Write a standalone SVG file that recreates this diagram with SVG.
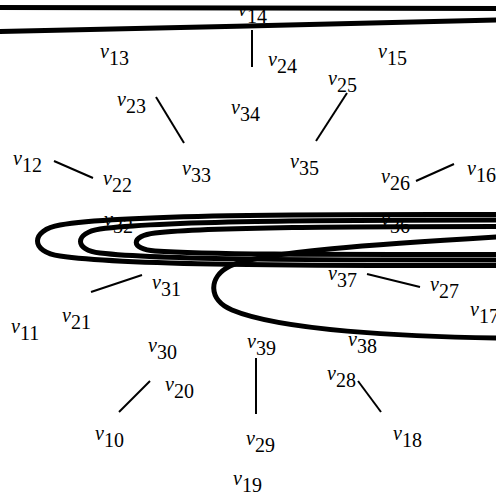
<svg xmlns="http://www.w3.org/2000/svg" width="496" height="495" viewBox="0 0 496 495">
<style>
text{font-family:"Liberation Serif","Times New Roman",serif;font-size:20px;fill:#000}
.v{font-style:italic}
.e{stroke:#000;stroke-width:2;fill:none}
.loop{stroke:#000;stroke-width:5;fill:none}
</style>
<rect width="496" height="495" fill="#fff"/>
<g id="connectors">
<path class="loop" d="M -10,7.5 L 506,8.5"/>
<path class="loop" d="M -10,31.7 C 150,29 350,23 506,19.7"/>
<path class="loop" d="M 506,214.5 C 300,214 120,215 60,225 C 30,230 30,252 60,256 C 120,265 300,266 506,265.5"/>
<path class="loop" d="M 506,220 C 320,220 160,221 100,229 C 74,233 74,250 100,253 C 160,260 320,260 506,260"/>
<path class="loop" d="M 506,226.5 C 350,226.5 210,227 155,233 C 130,236 130,249 155,251 C 210,255 350,254.5 506,254.5"/>
<path class="loop" d="M 506,236.5 C 380,244 260,252 230,266 C 208,277 208,300 232,310 C 280,330 400,337 506,338"/>
<line class="e" x1="252" y1="30" x2="252" y2="67"/>
<line class="e" x1="156" y1="97" x2="184" y2="143"/>
<line class="e" x1="347" y1="93" x2="316" y2="141"/>
<line class="e" x1="54" y1="161" x2="93" y2="178"/>
<line class="e" x1="416" y1="181" x2="454" y2="164"/>
<line class="e" x1="91" y1="292" x2="142" y2="275"/>
<line class="e" x1="367" y1="274" x2="420" y2="287"/>
<line class="e" x1="150" y1="381" x2="119" y2="412"/>
<line class="e" x1="256" y1="358" x2="256" y2="414"/>
<line class="e" x1="358" y1="381" x2="381" y2="412"/>
</g>
<g id="v10"><text x="95" y="440"><tspan class="v">v</tspan><tspan dy="7">10</tspan></text></g>
<g id="v11"><text x="11" y="333"><tspan class="v">v</tspan><tspan dy="7">11</tspan></text></g>
<g id="v12"><text x="13" y="165"><tspan class="v">v</tspan><tspan dy="7">12</tspan></text></g>
<g id="v13"><text x="100" y="58"><tspan class="v">v</tspan><tspan dy="7">13</tspan></text></g>
<g id="v14"><text x="238" y="16"><tspan class="v">v</tspan><tspan dy="7">14</tspan></text></g>
<g id="v15"><text x="378" y="58"><tspan class="v">v</tspan><tspan dy="7">15</tspan></text></g>
<g id="v16"><text x="467" y="175"><tspan class="v">v</tspan><tspan dy="7">16</tspan></text></g>
<g id="v17"><text x="470" y="316"><tspan class="v">v</tspan><tspan dy="7">17</tspan></text></g>
<g id="v18"><text x="393" y="440"><tspan class="v">v</tspan><tspan dy="7">18</tspan></text></g>
<g id="v19"><text x="233" y="485"><tspan class="v">v</tspan><tspan dy="7">19</tspan></text></g>
<g id="v20"><text x="165" y="391"><tspan class="v">v</tspan><tspan dy="7">20</tspan></text></g>
<g id="v21"><text x="62" y="322"><tspan class="v">v</tspan><tspan dy="7">21</tspan></text></g>
<g id="v22"><text x="103" y="185"><tspan class="v">v</tspan><tspan dy="7">22</tspan></text></g>
<g id="v23"><text x="117" y="106"><tspan class="v">v</tspan><tspan dy="7">23</tspan></text></g>
<g id="v24"><text x="268" y="66"><tspan class="v">v</tspan><tspan dy="7">24</tspan></text></g>
<g id="v25"><text x="328" y="85"><tspan class="v">v</tspan><tspan dy="7">25</tspan></text></g>
<g id="v26"><text x="381" y="183"><tspan class="v">v</tspan><tspan dy="7">26</tspan></text></g>
<g id="v27"><text x="430" y="291"><tspan class="v">v</tspan><tspan dy="7">27</tspan></text></g>
<g id="v28"><text x="327" y="380"><tspan class="v">v</tspan><tspan dy="7">28</tspan></text></g>
<g id="v29"><text x="246" y="445"><tspan class="v">v</tspan><tspan dy="7">29</tspan></text></g>
<g id="v30"><text x="148" y="352"><tspan class="v">v</tspan><tspan dy="7">30</tspan></text></g>
<g id="v31"><text x="152" y="289"><tspan class="v">v</tspan><tspan dy="7">31</tspan></text></g>
<g id="v32"><text x="104" y="226"><tspan class="v">v</tspan><tspan dy="7">32</tspan></text></g>
<g id="v33"><text x="182" y="175"><tspan class="v">v</tspan><tspan dy="7">33</tspan></text></g>
<g id="v34"><text x="231" y="114"><tspan class="v">v</tspan><tspan dy="7">34</tspan></text></g>
<g id="v35"><text x="290" y="168"><tspan class="v">v</tspan><tspan dy="7">35</tspan></text></g>
<g id="v36"><text x="381" y="226"><tspan class="v">v</tspan><tspan dy="7">36</tspan></text></g>
<g id="v37"><text x="328" y="280"><tspan class="v">v</tspan><tspan dy="7">37</tspan></text></g>
<g id="v38"><text x="348" y="346"><tspan class="v">v</tspan><tspan dy="7">38</tspan></text></g>
<g id="v39"><text x="247" y="348"><tspan class="v">v</tspan><tspan dy="7">39</tspan></text></g>
</svg>
